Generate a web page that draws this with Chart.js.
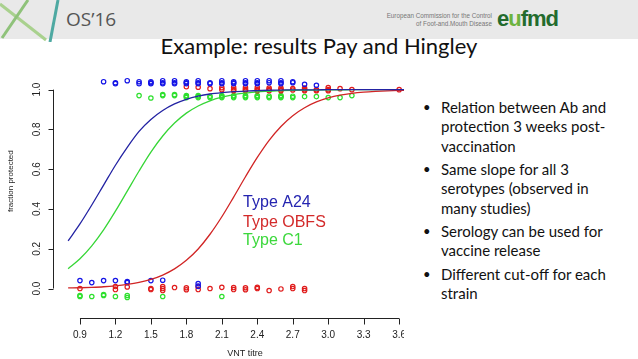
<!DOCTYPE html>
<html lang="en">
<head>
<meta charset="UTF-8" />
<title>Example: results Pay and Hingley</title>
<script src="https://cdn.jsdelivr.net/npm/chart.js"></script>
<style>
  body {margin:0;width:638px;height:359px;position:relative;overflow:hidden;background:#fff;font-family:Lato, "Open Sans", sans-serif;}
  .band {position:absolute;left:0;top:0;width:638px;height:39px;background:#e9e9e9;}
  .deco {position:absolute;left:0;top:0;}
  .os {position:absolute;left:66px;top:6px;font-size:19px;color:#555;font-family:"Open Sans", sans-serif;}
  .ec {position:absolute;right:146px;top:12px;font-size:6.3px;line-height:8px;color:#777;text-align:right;font-family:"Liberation Sans", sans-serif;}
  .logo {position:absolute;left:497px;top:6px;font-size:22px;font-weight:bold;color:#236b2d;font-family:"Liberation Sans", sans-serif;letter-spacing:-1px;}
  .logo span {color:#6cb33f;}
  .title {position:absolute;left:0;width:638px;top:32px;text-align:center;font-size:22px;color:#111;}
  .plot {position:absolute;left:0;top:55px;width:404px;height:304px;overflow:hidden;}
  ul {position:absolute;left:423px;top:98px;margin:0;padding:0;list-style:none;font-size:15px;line-height:19.3px;color:#111;}
  li {position:relative;padding-left:18px;margin-bottom:4.2px;}
  li::before {content:"\2022";position:absolute;left:0;top:0;font-size:13px;}
</style>
</head>
<body>
<div class="band"></div>
<svg class="deco" width="70" height="42">
  <line x1="0" y1="4" x2="46" y2="40" stroke="#a9d18e" stroke-width="3"/>
  <line x1="2" y1="38" x2="28" y2="0" stroke="#8fc27a" stroke-width="3"/>
  <line x1="58" y1="0" x2="50" y2="42" stroke="#4ea9a2" stroke-width="3"/>
</svg>
<div class="os">OS’16</div>
<div class="ec">European Commission for the Control<br>of Foot-and.Mouth Disease</div>
<div class="logo">e<span>u</span>fmd</div>
<div class="title">Example: results Pay and Hingley</div>
<div class="plot"><canvas id="chart" width="460" height="304"></canvas></div>
<ul>
  <li>Relation between Ab and<br>protection 3 weeks post-<br>vaccination</li>
  <li>Same slope for all 3<br>serotypes (observed in<br>many studies)</li>
  <li>Serology can be used for<br>vaccine release</li>
  <li>Different cut-off for each<br>strain</li>
</ul>

<script>
// ---- data ----
const xTicks = [0.9, 1.2, 1.5, 1.8, 2.1, 2.4, 2.7, 3.0, 3.3, 3.6];
const yTicks = [0.0, 0.2, 0.4, 0.6, 0.8, 1.0];

// fitted curves (fraction protected vs VNT titre)
const curveX    = [0.8,0.9,1.0,1.1,1.2,1.3,1.4,1.5,1.6,1.7,1.8,1.9,2.0,2.1,2.2,2.3,2.4,2.5,2.6,2.7,2.8,2.9,3.0,3.1,3.2,3.3,3.4,3.5,3.6,3.7];
const curveA24  = [0.24,0.325,0.42,0.52,0.62,0.71,0.79,0.85,0.895,0.928,0.951,0.967,0.978,0.985,0.99,0.993,0.995,0.997,0.998,0.999,0.999,0.999,1,1,1,1,1,1,1,1];
const curveOBFS = [0.003,0.004,0.006,0.009,0.014,0.021,0.031,0.046,0.068,0.099,0.142,0.199,0.273,0.361,0.46,0.562,0.659,0.745,0.815,0.869,0.909,0.938,0.958,0.972,0.981,0.987,0.991,0.994,0.996,0.997];
const curveC1   = [0.10,0.15,0.215,0.295,0.389,0.49,0.591,0.686,0.767,0.832,0.882,0.918,0.944,0.962,0.975,0.983,0.989,0.992,0.995,0.997,0.998,0.998,0.999,0.999,1,1,1,1,1,1];

// individual animals, protected (top) and not protected (bottom), slightly jittered
const a24Protected = [[1.1,1.04],[1.2,1.035],[1.2,1.03],[1.3,1.045],[1.4,1.04],[1.4,1.03],[1.5,1.04],[1.5,1.035],[1.5,1.03],
  [1.6,1.045],[1.6,1.035],[1.6,1.03],[1.7,1.045],[1.7,1.035],[1.7,1.03],[1.8,1.04],[1.8,1.035],[1.8,1.03],[1.9,1.045],[1.9,1.035],[1.9,1.03],
  [2.0,1.035],[2.0,1.03],[2.1,1.045],[2.1,1.035],[2.1,1.03],[2.2,1.04],[2.2,1.035],[2.2,1.03],[2.3,1.045],[2.3,1.035],[2.3,1.03],
  [2.4,1.045],[2.4,1.035],[2.4,1.03],[2.5,1.045],[2.5,1.035],[2.6,1.045],[2.6,1.035],[2.6,1.03],[2.7,1.04],[2.7,1.035],[2.8,1.027],[2.9,1.022]];
const a24Failed = [[0.9,0.04],[1.0,0.03],[1.1,0.04],[1.2,0.04],[1.3,0.035],[1.3,0.03],[1.5,0.04],[1.6,0.042],[1.9,0.025],[1.9,0.012]];

const obfsProtected = [[1.8,1.015],[1.9,1.012],[2.0,1.005],[2.1,1.01],[2.1,1.0],[2.2,1.01],[2.2,1.0],[2.2,0.995],[2.3,1.01],[2.3,1.0],[2.3,0.995],
  [2.4,1.01],[2.4,1.0],[2.4,0.995],[2.5,1.008],[2.5,1.0],[2.5,0.995],[2.6,1.008],[2.6,1.0],[2.6,0.995],[2.7,1.005],[2.7,0.998],
  [2.8,1.008],[2.8,1.0],[2.8,0.995],[2.9,1.0],[2.9,0.995],[3.0,1.01],[3.0,1.0],[3.0,0.995],[3.1,1.005],[3.2,1.0],[3.6,1.0]];
const obfsFailed = [[0.9,0.0],[1.2,0.01],[1.2,-0.005],[1.3,0.008],[1.5,0.0],[1.5,-0.005],[1.6,0.01],[1.6,0.0],[1.6,-0.01],[1.7,0.005],
  [1.8,0.004],[1.8,-0.006],[1.9,0.01],[1.9,-0.005],[2.0,0.0],[2.1,0.006],[2.2,0.005],[2.2,-0.005],[2.3,0.004],[2.3,-0.006],
  [2.4,0.006],[2.4,0.0],[2.5,-0.01],[2.6,-0.002],[2.7,0.01],[2.7,0.0],[2.8,0.0],[2.8,-0.01]];

const c1Protected = [[1.4,0.97],[1.5,0.958],[1.6,0.975],[1.6,0.97],[1.7,0.975],[1.7,0.97],[1.8,0.96],[1.8,0.965],[1.8,0.97],
  [1.9,0.96],[1.9,0.965],[1.9,0.97],[2.0,0.96],[2.0,0.967],[2.1,0.96],[2.1,0.965],[2.1,0.97],[2.2,0.96],[2.2,0.965],[2.2,0.97],
  [2.3,0.96],[2.3,0.965],[2.3,0.97],[2.4,0.96],[2.4,0.965],[2.4,0.97],[2.5,0.96],[2.5,0.967],[2.6,0.96],[2.6,0.965],[2.6,0.97],
  [2.7,0.96],[2.7,0.967],[2.8,0.965],[2.9,0.965],[3.0,0.96],[3.1,0.96],[3.2,0.97]];
const c1Failed = [[0.9,-0.035],[0.9,-0.04],[1.0,-0.04],[1.1,-0.035],[1.1,-0.03],[1.2,-0.04],[1.3,-0.035],[1.3,-0.045],[1.6,-0.04],[2.1,-0.04]];

const seriesNames  = ['Type A24', 'Type OBFS', 'Type C1'];
const lineColors   = ['#2323a3', '#d12525', '#36d636'];
const pointColors  = ['#1414e6', '#e01c1c', '#2ee02e'];
const labelColors  = ['#2424b0', '#d32a2a', '#3cd83c'];
const labelY       = [0.433, 0.333, 0.242];
const labelX       = 2.28;

// ---- datasets ----
const toPts = arr => arr.map(([x, y]) => ({x, y}));
const curves = [curveA24, curveOBFS, curveC1];
const pointSets = [a24Protected.concat(a24Failed), obfsProtected.concat(obfsFailed), c1Protected.concat(c1Failed)];

const datasets = [];
curves.forEach((c, i) => {
  datasets.push({
    label: seriesNames[i], data: curveX.map((x, j) => ({x, y: c[j]})),
    showLine: true, borderColor: lineColors[i], borderWidth: 1.3, pointRadius: 0,
    cubicInterpolationMode: 'monotone', order: 0
  });
});
pointSets.forEach((p, i) => {
  datasets.push({
    label: seriesNames[i] + ' animals', data: toPts(p), showLine: false,
    pointStyle: 'circle', pointRadius: 2.2, pointBorderWidth: 1.2,
    borderColor: pointColors[i], backgroundColor: 'rgba(0,0,0,0)', order: 1
  });
});

// R-like axes and in-plot labels
const rAxes = {
  id: 'rAxes',
  afterDraw(chart) {
    const {ctx, chartArea: a, scales: {x, y}} = chart;
    ctx.save();
    ctx.strokeStyle = '#222'; ctx.fillStyle = '#222'; ctx.lineWidth = 1;
    ctx.font = '10px "Liberation Sans", Arial, sans-serif';

    // y axis
    const yl = Math.round(a.left) + 0.5;
    ctx.beginPath();
    ctx.moveTo(yl, y.getPixelForValue(yTicks[0]));
    ctx.lineTo(yl, y.getPixelForValue(yTicks[yTicks.length - 1]));
    yTicks.forEach(t => {
      const py = Math.round(y.getPixelForValue(t)) + 0.5;
      ctx.moveTo(yl, py); ctx.lineTo(yl - 5, py);
    });
    ctx.stroke();
    ctx.textAlign = 'center'; ctx.textBaseline = 'middle';
    yTicks.forEach(t => {
      ctx.save();
      ctx.translate(a.left - 16, y.getPixelForValue(t));
      ctx.rotate(-Math.PI / 2);
      ctx.fillText(t.toFixed(1), 0, 0);
      ctx.restore();
    });

    // x axis
    const xb = Math.round(a.bottom) + 0.5;
    ctx.beginPath();
    ctx.moveTo(x.getPixelForValue(xTicks[0]), xb);
    ctx.lineTo(x.getPixelForValue(xTicks[xTicks.length - 1]), xb);
    xTicks.forEach(t => {
      const px = Math.round(x.getPixelForValue(t)) + 0.5;
      ctx.moveTo(px, xb); ctx.lineTo(px, xb + 6);
    });
    ctx.stroke();
    xTicks.forEach(t => ctx.fillText(t.toFixed(1), x.getPixelForValue(t), a.bottom + 17));

    // axis titles
    ctx.font = '9px "Liberation Sans", Arial, sans-serif';
    ctx.fillText('VNT titre', (a.left + a.right) / 2, a.bottom + 36);
    ctx.font = '8px "Liberation Sans", Arial, sans-serif';
    ctx.save();
    ctx.translate(11, y.getPixelForValue(0.54));
    ctx.rotate(-Math.PI / 2);
    ctx.fillText('fraction protected', 0, 0);
    ctx.restore();

    // series labels inside the plot
    ctx.font = '16px "Liberation Sans", Arial, sans-serif';
    ctx.textAlign = 'left';
    seriesNames.forEach((n, i) => {
      ctx.fillStyle = labelColors[i];
      ctx.fillText(n, x.getPixelForValue(labelX), y.getPixelForValue(labelY[i]));
    });
    ctx.restore();
  }
};

new Chart(document.getElementById('chart'), {
  type: 'scatter',
  data: {datasets},
  options: {
    responsive: false, animation: false,
    layout: {padding: {left: 53, right: 23, top: 5, bottom: 41}},
    plugins: {legend: {display: false}, tooltip: {enabled: false}},
    scales: {
      x: {type: 'linear', min: 0.672, max: 3.92, display: false},
      y: {type: 'linear', min: -0.148, max: 1.148, display: false}
    }
  },
  plugins: [rAxes]
});
</script>
</body>
</html>
